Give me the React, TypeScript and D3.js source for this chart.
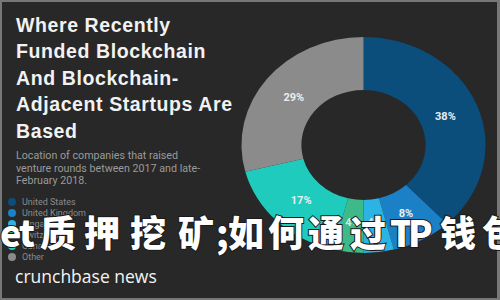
import * as d3 from 'd3'

const countries = ['United States', 'United Kingdom', 'Singapore', 'Switzerland', 'Canada', 'Other']
const shares = [38, 8, 4, 4, 17, 29]
const colors = ['#0b4d7b', '#1b80c6', '#2bb3e4', '#3dba88', '#1ecbbd', '#8b8b8b']

const titleLines = ['Where Recently', 'Funded Blockchain', 'And Blockchain-', 'Adjacent Startups Are', 'Based']
const subtitleLines = ['Location of companies that raised', 'venture rounds between 2017 and late-', 'February 2018.']
const watermark = 'et质押挖矿;如何通过TP钱包'
// left edge of each watermark glyph
const watermarkX = [0, 19, 40, 84, 130, 178, 216, 228, 268, 308, 350, 390, 408, 440, 482]

export default function App() {
  const width = 500
  const height = 300
  const cx = 363.5
  const cy = 145
  const outer = 108
  const inner = 55
  const stretch = 1.13

  const slices = d3.pie<number>().sort(null).value((d) => d)(shares)
  const arc = d3.arc<d3.PieArcDatum<number>>().innerRadius(inner).outerRadius(outer)
  const labelArc = d3.arc<d3.PieArcDatum<number>>().innerRadius(78).outerRadius(78)

  return (
    <svg
      width={width}
      height={height}
      style={{ position: 'absolute', left: 0, top: 0 }}
      fontFamily="Roboto, 'Noto Sans', sans-serif"
    >
      <rect x={0} y={0} width={width} height={height} fill="#777" />
      <rect x={2} y={2} width={width - 5} height={height - 4} fill="#282828" />

      {/* donut, stretched a bit horizontally like the source */}
      <g transform={`translate(${cx},${cy}) scale(${stretch},1)`}>
        {slices.map((s, i) => (
          <path key={i} d={arc(s) ?? ''} fill={colors[i]} />
        ))}
      </g>
      {slices.map((s, i) => {
        const [x, y] = labelArc.centroid(s)
        return (
          <text
            key={i}
            x={cx + x * stretch}
            y={cy + y + 4}
            textAnchor="middle"
            fontSize={11}
            fontWeight={700}
            fill={shares[i] < 5 ? '#cfe6e6' : '#e9eef0'}
          >
            {shares[i]}%
          </text>
        )
      })}

      {titleLines.map((t, i) => (
        <text
          key={i}
          x={16}
          y={32 + i * 26.4}
          fontSize={19.5}
          fontWeight={700}
          letterSpacing={0.6}
          fill="#f2f2f2"
          fontFamily="'Liberation Sans', Arial, sans-serif"
        >
          {t}
        </text>
      ))}
      {subtitleLines.map((t, i) => (
        <text key={i} x={16} y={159 + i * 12.5} fontSize={10.7} fill="#9a9a9a">
          {t}
        </text>
      ))}

      {countries.map((c, i) => (
        <g key={c} transform={`translate(12,${202 + i * 11})`}>
          <circle r={4} fill={colors[i]} />
          <text x={10} y={3} fontSize={9} fill="#8a8a8a">
            {c}
          </text>
        </g>
      ))}

      <text x={15} y={283} fontSize={17.5} fill="#f4f4f4" fontFamily="'Open Sans', sans-serif">
        crunchbase news
      </text>

      <text
        x={watermarkX.join(' ')}
        y={247}
        fontSize={36}
        fontWeight={900}
        fill="#ffffff"
        stroke="#1a1a1a"
        strokeWidth={2}
        paintOrder="stroke"
        fontFamily="'Noto Sans CJK SC', sans-serif"
      >
        {watermark}
      </text>
    </svg>
  )
}
